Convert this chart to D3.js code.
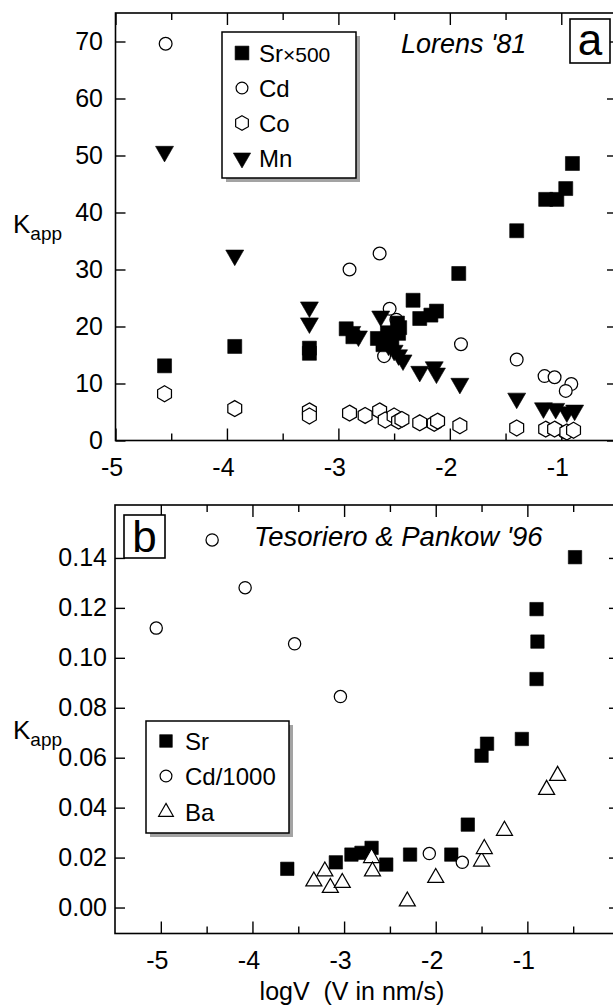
<!DOCTYPE html>
<html>
<head>
<meta charset="utf-8">
<script src="https://cdn.jsdelivr.net/npm/d3@7"></script>
<style>
  html, body { margin: 0; padding: 0; background: #fff; }
  svg { display: block; font-family: "Liberation Sans", Arial, Helvetica, sans-serif; }
</style>
</head>
<body>
<svg id="chart" width="613" height="1005"></svg>
<script>
// ---------- Panel a: Lorens '81 (logV, Kapp) ----------
const lorensSr = [[-4.56,13.1],[-3.93,16.5],[-3.26,16.2],[-3.26,15.3],[-2.93,19.6],[-2.87,18.2],
  [-2.65,17.9],[-2.60,16.8],[-2.56,18.9],[-2.52,17.5],[-2.47,20.6],[-2.46,18.8],[-2.45,19.8],
  [-2.33,24.6],[-2.27,21.4],[-2.17,22.0],[-2.12,22.7],[-1.92,29.3],[-1.40,36.8],
  [-1.14,42.3],[-1.04,42.3],[-0.96,44.2],[-0.90,48.6]];
const lorensCd = [[-4.55,69.6],[-2.90,30.0],[-2.63,32.8],[-2.54,23.1],[-2.48,21.2],[-2.59,14.8],
  [-1.90,16.9],[-1.40,14.2],[-1.15,11.3],[-1.06,11.1],[-0.91,9.9],[-0.96,8.7],[-0.97,1.5]];
const lorensCo = [[-4.56,8.2],[-3.93,5.6],[-3.26,5.2],[-3.26,4.3],[-2.90,4.8],[-2.76,4.4],
  [-2.63,5.2],[-2.58,3.6],[-2.50,4.3],[-2.46,3.4],[-2.43,3.7],[-2.27,3.1],[-2.14,3.0],
  [-2.11,3.4],[-1.91,2.6],[-1.40,2.2],[-1.14,2.0],[-1.06,2.0],[-0.95,1.5],[-0.89,1.8]];
const lorensMn = [[-4.56,50.7],[-3.93,32.5],[-3.26,23.4],[-3.26,20.6],[-2.88,19.1],[-2.82,18.3],
  [-2.62,21.8],[-2.55,16.7],[-2.50,15.8],[-2.46,15.0],[-2.42,14.1],[-2.27,12.1],[-2.14,12.9],
  [-2.12,11.8],[-1.91,10.0],[-1.40,7.4],[-1.16,5.7],[-1.05,5.6],[-0.95,5.0],[-0.88,5.3]];

// ---------- Panel b: Tesoriero & Pankow '96 ----------
const tpSr = [[-3.62,0.0155],[-3.09,0.0181],[-2.92,0.0212],[-2.81,0.0219],[-2.70,0.0239],
  [-2.54,0.0172],[-2.28,0.0212],[-1.83,0.0212],[-1.65,0.0332],[-1.50,0.0608],[-1.44,0.0656],
  [-1.06,0.0675],[-0.90,0.0915],[-0.89,0.1065],[-0.90,0.1195],[-0.48,0.1403]];
const tpCd = [[-5.05,0.1119],[-4.44,0.1472],[-4.08,0.1281],[-3.54,0.1056],[-3.04,0.0845],
  [-2.07,0.0216],[-1.71,0.0181]];
const tpBa = [[-3.33,0.0105],[-3.21,0.0145],[-3.15,0.0079],[-3.02,0.0099],[-2.70,0.0199],
  [-2.69,0.0145],[-2.31,0.0025],[-2.00,0.0119],[-1.50,0.0185],[-1.47,0.0235],[-1.25,0.0308],
  [-0.79,0.0472],[-0.67,0.0528]];

// ---------- ticks ----------
const xMajorA = [-5, -4, -3, -2, -1];
const xMinorA = [-4.5, -3.5, -2.5, -1.5];
const yTicksA = [0, 10, 20, 30, 40, 50, 60, 70];
const xMajorB = [-5, -4, -3, -2, -1];
const xMinorB = [-4.5, -3.5, -2.5, -1.5, -0.5];
const yTicksB = [0, 0.02, 0.04, 0.06, 0.08, 0.10, 0.12, 0.14];

const svg = d3.select("#chart");

// scales
const xA = d3.scaleLinear().domain([-5, -0.5]).range([115.5, 617]);
const yA = d3.scaleLinear().domain([0, 75]).range([440.5, 13]);
const xB = d3.scaleLinear().domain([-5.5, 0]).range([115, 619]);
const yB = d3.scaleLinear().domain([-0.0104, 0.1612]).range([933.5, 505]);

// custom symbols
const hexagon = {
  draw(ctx, size) {
    const r = Math.sqrt(size / (1.5 * Math.sqrt(3)));
    for (let i = 0; i < 6; i++) {
      const a = Math.PI / 3 * i - Math.PI / 2;
      const px = r * Math.cos(a), py = r * Math.sin(a);
      i ? ctx.lineTo(px, py) : ctx.moveTo(px, py);
    }
    ctx.closePath();
  }
};
// flattened upward triangle, width 16, height 14 (scaled by size)
const wideTriangle = {
  draw(ctx, size) {
    const s = Math.sqrt(size / 112);
    const w = 16 * s, h = 14 * s;
    ctx.moveTo(0, -2 * h / 3);
    ctx.lineTo(w / 2, h / 3);
    ctx.lineTo(-w / 2, h / 3);
    ctx.closePath();
  }
};

const SYM = {
  square:  { type: d3.symbolSquare,   fill: "#000", rot: 0 },
  circle:  { type: d3.symbolCircle,   fill: "#fff", rot: 0 },
  hex:     { type: hexagon,           fill: "#fff", rot: 0 },
  tridown: { type: d3.symbolTriangle, fill: "#000", rot: 180 },
  triup:   { type: wideTriangle,      fill: "#fff", rot: 0 }
};

function drawSeries(g, data, x, y, kind, size) {
  const s = SYM[kind];
  g.append("g").selectAll("path").data(data).join("path")
    .attr("d", d3.symbol().type(s.type).size(size))
    .attr("transform", d => `translate(${x(d[0])},${y(d[1])}) rotate(${s.rot})`)
    .attr("fill", s.fill)
    .attr("stroke", "#000")
    .attr("stroke-width", kind === "square" || kind === "tridown" ? 0.6 : 1.25);
}

function styleAxis(sel) {
  sel.attr("font-size", null).attr("font-family", null);
  sel.select(".domain").remove();
  sel.selectAll(".tick line").attr("stroke", "#000").attr("stroke-width", 1.4);
}

function drawAxes(g, x, y, o) {
  const [x0, x1] = x.range();
  const [y0, y1] = y.range();

  // bottom axis with labels
  const b = g.append("g").attr("transform", `translate(0,${y0})`)
    .call(d3.axisBottom(x).tickValues(o.xMajor).tickSizeInner(-12).tickSizeOuter(0)
      .tickPadding(o.xPad).tickFormat(d => String(d)));
  styleAxis(b);
  b.selectAll("text").attr("font-size", 25).attr("fill", "#000").attr("dx", -4);
  g.append("g").attr("transform", `translate(0,${y0})`)
    .call(d3.axisBottom(x).tickValues(o.xMinor).tickSizeInner(-7).tickSizeOuter(0).tickFormat(""))
    .call(styleAxis);

  // top axis (ticks only)
  g.append("g").attr("transform", `translate(0,${y1})`)
    .call(d3.axisTop(x).tickValues(o.xMajor).tickSizeInner(-12).tickSizeOuter(0).tickFormat(""))
    .call(styleAxis);
  g.append("g").attr("transform", `translate(0,${y1})`)
    .call(d3.axisTop(x).tickValues(o.xMinor).tickSizeInner(-7).tickSizeOuter(0).tickFormat(""))
    .call(styleAxis);

  // left axis with labels
  const l = g.append("g").attr("transform", `translate(${x0},0)`)
    .call(d3.axisLeft(y).tickValues(o.yTicks).tickSizeInner(-10).tickSizeOuter(0)
      .tickPadding(o.yPad).tickFormat(o.yFmt));
  styleAxis(l);
  l.selectAll("text").attr("font-size", 25).attr("fill", "#000");

  // right axis (ticks only)
  g.append("g").attr("transform", `translate(${x1},0)`)
    .call(d3.axisRight(y).tickValues(o.yTicks).tickSizeInner(-10).tickSizeOuter(0).tickFormat(""))
    .call(styleAxis);

  // frame
  g.append("rect")
    .attr("x", x0).attr("y", y1).attr("width", x1 - x0).attr("height", y0 - y1)
    .attr("fill", "none").attr("stroke", "#000").attr("stroke-width", 1.6);
}

function kappLabel(g, xPos, yBase) {
  const t = g.append("text").attr("x", xPos).attr("y", yBase).attr("fill", "#000");
  t.append("tspan").attr("font-size", 26).text("K");
  t.append("tspan").attr("font-size", 19).attr("dy", 7).text("app");
}

function legend(g, box, rows, symX, textX) {
  g.append("rect").attr("x", box.x + 4).attr("y", box.y + 4)
    .attr("width", box.w).attr("height", box.h).attr("fill", "#a3a3a3");
  g.append("rect").attr("x", box.x).attr("y", box.y)
    .attr("width", box.w).attr("height", box.h)
    .attr("fill", "#fff").attr("stroke", "#000").attr("stroke-width", 1.5);
  rows.forEach(r => {
    const s = SYM[r.kind];
    g.append("path")
      .attr("d", d3.symbol().type(s.type).size(r.size)())
      .attr("transform", `translate(${symX},${r.y}) rotate(${s.rot})`)
      .attr("fill", s.fill).attr("stroke", "#000")
      .attr("stroke-width", r.kind === "square" || r.kind === "tridown" ? 0.6 : 1.2);
    const t = g.append("text").attr("x", textX).attr("y", r.y + 9).attr("fill", "#000");
    r.parts.forEach(p => t.append("tspan").attr("font-size", p.size).text(p.text));
  });
}

function letterBox(g, bx, by, bw, bh, letter, base) {
  g.append("rect").attr("x", bx).attr("y", by).attr("width", bw).attr("height", bh)
    .attr("fill", "#fff").attr("stroke", "#000").attr("stroke-width", 1.6);
  g.append("text").attr("x", bx + bw / 2).attr("y", base).attr("text-anchor", "middle")
    .attr("font-size", 44).attr("fill", "#000").text(letter);
}

// ===== Panel a =====
const gA = svg.append("g");
drawAxes(gA, xA, yA, { xMajor: xMajorA, xMinor: xMinorA, yTicks: yTicksA,
  xPad: 17.5, yPad: 12.5, yFmt: d => String(d) });
drawSeries(gA, lorensCd, xA, yA, "circle", 128);
drawSeries(gA, lorensCo, xA, yA, "hex", 166);
drawSeries(gA, lorensSr, xA, yA, "square", 196);
drawSeries(gA, lorensMn, xA, yA, "tridown", 140);
kappLabel(gA, 13, 233);
legend(gA, { x: 222, y: 32, w: 134, h: 146 }, [
  { kind: "square", size: 190, y: 53, parts: [{ text: "Sr", size: 24 }, { text: "\u00d7500", size: 21 }] },
  { kind: "circle", size: 110, y: 88, parts: [{ text: "Cd", size: 24 }] },
  { kind: "hex", size: 140, y: 123, parts: [{ text: "Co", size: 24 }] },
  { kind: "tridown", size: 130, y: 158, parts: [{ text: "Mn", size: 24 }] }
], 242, 259);
gA.append("text").attr("x", 401).attr("y", 53).attr("font-size", 27)
  .attr("font-style", "italic").attr("fill", "#000").text("Lorens '81");
letterBox(gA, 570, 19, 40, 44, "a", 55);

// ===== Panel b =====
const gB = svg.append("g");
drawAxes(gB, xB, yB, { xMajor: xMajorB, xMinor: xMinorB, yTicks: yTicksB,
  xPad: 17.5, yPad: 8, yFmt: d3.format(".2f") });
drawSeries(gB, tpSr, xB, yB, "square", 180);
drawSeries(gB, tpCd, xB, yB, "circle", 118);
drawSeries(gB, tpBa, xB, yB, "triup", 112);
kappLabel(gB, 13, 739);
legend(gB, { x: 146, y: 721, w: 143, h: 112 }, [
  { kind: "square", size: 160, y: 741, parts: [{ text: "Sr", size: 24 }] },
  { kind: "circle", size: 110, y: 776, parts: [{ text: "Cd/1000", size: 24 }] },
  { kind: "triup", size: 95, y: 812, parts: [{ text: "Ba", size: 24 }] }
], 166, 185);
gB.append("text").attr("x", 254).attr("y", 546).attr("font-size", 27.5)
  .attr("font-style", "italic").attr("fill", "#000").text("Tesoriero & Pankow '96");
letterBox(gB, 124, 515, 41, 43, "b", 552);

// x-axis title
svg.append("text").attr("x", 352).attr("y", 1000).attr("text-anchor", "middle")
  .attr("font-size", 25).attr("fill", "#000").style("white-space", "pre")
  .text("logV  (V in nm/s)");
</script>
</body>
</html>
